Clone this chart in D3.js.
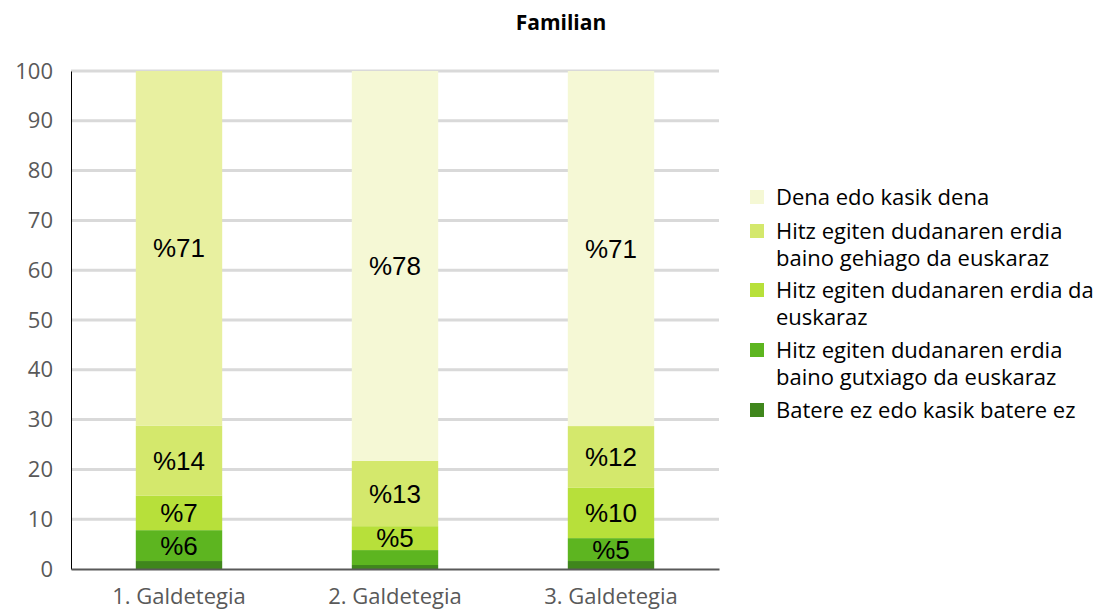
<!DOCTYPE html>
<html>
<head>
<meta charset="utf-8">
<script src="https://cdn.jsdelivr.net/npm/d3@7"></script>
<style>
  body { margin: 0; background: #fff; }
  #chart { width: 1102px; height: 612px; }
</style>
</head>
<body>
<div id="chart"></div>
<script>
// categories
let categories = ["1. Galdetegia", "2. Galdetegia", "3. Galdetegia"];

// series, bottom to top
let seriesNames = [
    "Batere ez edo kasik batere ez",
    "Hitz egiten dudanaren erdia baino gutxiago da euskaraz",
    "Hitz egiten dudanaren erdia da euskaraz",
    "Hitz egiten dudanaren erdia baino gehiago da euskaraz",
    "Dena edo kasik dena"
];
let bateres = [1.6, 0.8, 1.6];
let gutxiago = [6.2, 3.0, 4.6];
let erdia = [6.9, 4.8, 10.1];
let gehiago = [14.1, 13.1, 12.4];
let dena = [71.2, 78.3, 71.3];

let yTicks = [0, 10, 20, 30, 40, 50, 60, 70, 80, 90, 100];

let colors = ["#3f861c", "#5db520", "#b7e03a", "#d4e86c", "#f5f8d5"];
// the first bar's top segment is drawn in a stronger tint
let topColorFirst = "#e8f0a0";

let rows = categories.map(function (c, i) {
    return {
        cat: c,
        s0: bateres[i], s1: gutxiago[i], s2: erdia[i], s3: gehiago[i], s4: dena[i]
    };
});
let keys = ["s0", "s1", "s2", "s3", "s4"];

let margin = {top: 71, right: 383, bottom: 43, left: 71};
let width = 1102 - margin.left - margin.right;
let height = 612 - margin.top - margin.bottom;

let svg = d3.select("#chart")
    .append("svg")
    .attr("width", 1102)
    .attr("height", 612);

svg.append("text")
    .attr("x", 561)
    .attr("y", 30)
    .attr("text-anchor", "middle")
    .style("font-family", "'Open Sans', sans-serif")
    .style("font-weight", "bold")
    .style("font-size", "21px")
    .attr("fill", "#000")
    .text("Familian");

let g = svg.append("g")
    .attr("transform", "translate(" + margin.left + "," + margin.top + ")");

let x = d3.scaleBand()
    .domain(categories)
    .range([0, width])
    .paddingInner(0.6)
    .paddingOuter(0.3);

let y = d3.scaleLinear()
    .domain([0, 100])
    .range([height, 0]);

// gridlines
g.append("g")
    .selectAll("line")
    .data(yTicks.filter(function (t) { return t > 0; }))
    .join("line")
    .attr("x1", 0)
    .attr("x2", width)
    .attr("y1", function (d) { return y(d); })
    .attr("y2", function (d) { return y(d); })
    .attr("stroke", "#d9d9d9")
    .attr("stroke-width", 3);

// y axis
let yAxis = g.append("g")
    .call(d3.axisLeft(y).tickValues(yTicks).tickSize(0).tickPadding(18));
yAxis.select(".domain").attr("stroke", "#000").attr("stroke-width", 1);
yAxis.selectAll("text")
    .style("font-family", "'Open Sans', sans-serif")
    .style("font-size", "22px")
    .attr("fill", "#595959");

// stacked bars
let stack = d3.stack().keys(keys);
let stacked = stack(rows);

let layers = g.append("g")
    .selectAll("g")
    .data(stacked)
    .join("g");

layers.selectAll("rect")
    .data(function (d) { return d.map(function (p) { p.key = d.key; p.idx = d.index; return p; }); })
    .join("rect")
    .attr("x", function (d) { return x(d.data.cat); })
    .attr("width", x.bandwidth())
    .attr("y", function (d) { return y(d[1]); })
    .attr("height", function (d) { return y(d[0]) - y(d[1]); })
    .attr("fill", function (d, i) {
        if (d.idx === 4 && i === 0) return topColorFirst;
        return colors[d.idx];
    });

// data labels
layers.selectAll("text")
    .data(function (d) { return d.filter(function (p) { return p[1] - p[0] >= 4; }); })
    .join("text")
    .attr("x", function (d) { return x(d.data.cat) + x.bandwidth() / 2; })
    .attr("y", function (d) { return y((d[0] + d[1]) / 2); })
    .attr("dy", "0.35em")
    .attr("text-anchor", "middle")
    .style("font-family", "'Liberation Sans', Arial, sans-serif")
    .style("font-size", "26px")
    .attr("fill", "#000")
    .text(function (d) { return "%" + Math.round(d[1] - d[0]); });

// baseline / x axis
let xAxis = g.append("g")
    .attr("transform", "translate(0," + height + ")")
    .call(d3.axisBottom(x).tickSize(0).tickPadding(19));
xAxis.select(".domain").attr("stroke", "#595959").attr("stroke-width", 2);
xAxis.selectAll("text")
    .style("font-family", "'Open Sans', sans-serif")
    .style("font-size", "22px")
    .attr("fill", "#595959");

// legend, top entry first
let legendLines = [
    ["Dena edo kasik dena"],
    ["Hitz egiten dudanaren erdia", "baino gehiago da euskaraz"],
    ["Hitz egiten dudanaren erdia da", "euskaraz"],
    ["Hitz egiten dudanaren erdia", "baino gutxiago da euskaraz"],
    ["Batere ez edo kasik batere ez"]
];
let legendColors = colors.slice().reverse();
let legendY = [197, 231, 290, 350, 410];

let legend = svg.append("g");
legendLines.forEach(function (lines, i) {
    let item = legend.append("g")
        .attr("transform", "translate(750," + legendY[i] + ")");
    item.append("rect")
        .attr("x", 0)
        .attr("y", -7)
        .attr("width", 14)
        .attr("height", 14)
        .attr("fill", legendColors[i]);
    let t = item.append("text")
        .attr("x", 26)
        .attr("y", 0)
        .style("font-family", "'Open Sans', sans-serif")
        .style("font-size", "22px")
        .attr("fill", "#000");
    lines.forEach(function (ln, j) {
        t.append("tspan")
            .attr("x", 26)
            .attr("dy", j === 0 ? "0.35em" : "27px")
            .text(ln);
    });
});
</script>
</body>
</html>
